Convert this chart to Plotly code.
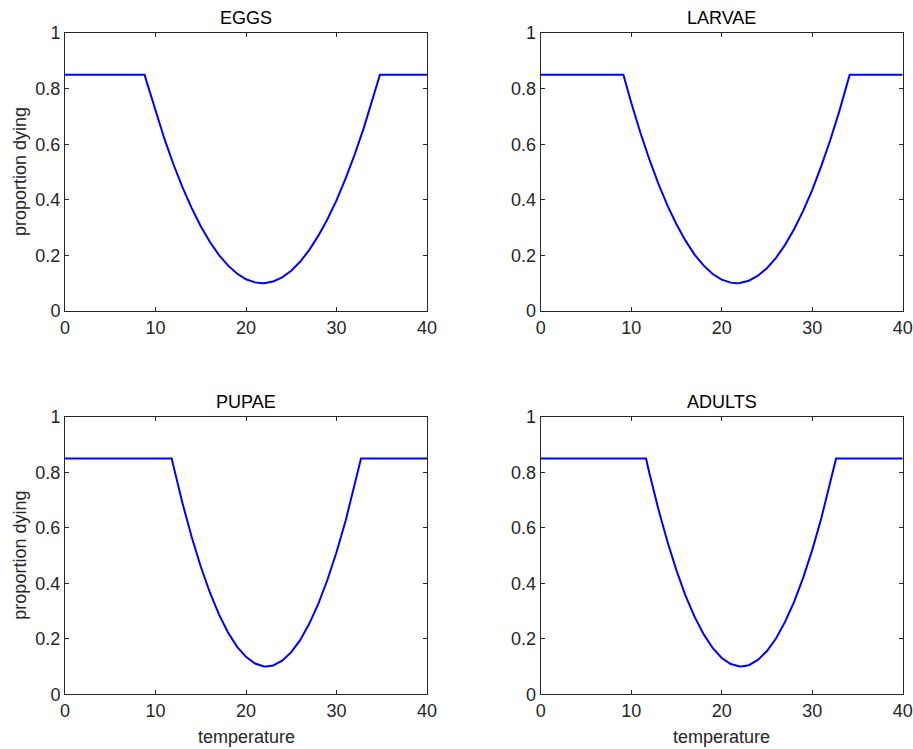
import plotly.graph_objects as go

# ---- data ----
TITLES = ["EGGS", "LARVAE", "PUPAE", "ADULTS"]
X_TICKS = [0, 10, 20, 30, 40]
Y_TICKS = [0, 0.2, 0.4, 0.6, 0.8, 1]
Y_TICK_LABELS = ["0", "0.2", "0.4", "0.6", "0.8", "1"]

T_EGGS = [0, 8.8, 9, 10, 11, 12, 13, 14, 15, 16, 17, 18, 19, 20, 21, 21.8,
          22, 23, 24, 25, 26, 27, 28, 29, 30, 31, 32, 33, 34, 34.8, 40]
P_EGGS = [0.85, 0.85, 0.827, 0.718, 0.618, 0.526, 0.444, 0.370, 0.305, 0.249, 0.202,
          0.164, 0.135, 0.114, 0.103, 0.100, 0.100, 0.106, 0.121, 0.145, 0.178, 0.220,
          0.271, 0.330, 0.398, 0.476, 0.562, 0.657, 0.761, 0.85, 0.85]

T_LARVAE = [0, 9.14, 10, 11, 12, 13, 14, 15, 16, 17, 18, 19, 20, 21, 21.64,
            22, 23, 24, 25, 26, 27, 28, 29, 30, 31, 32, 33, 34, 34.14, 40]
P_LARVAE = [0.85, 0.85, 0.750, 0.643, 0.546, 0.458, 0.380, 0.312, 0.253, 0.203, 0.164,
            0.133, 0.113, 0.102, 0.100, 0.101, 0.109, 0.127, 0.154, 0.191, 0.238, 0.294,
            0.360, 0.435, 0.521, 0.615, 0.719, 0.833, 0.85, 0.85]

T_PUPAE = [0, 11.79, 12, 13, 14, 15, 16, 17, 18, 19, 20, 21, 22, 22.25,
           23, 24, 25, 26, 27, 28, 29, 30, 31, 32, 32.71, 40]
P_PUPAE = [0.85, 0.85, 0.821, 0.687, 0.567, 0.461, 0.368, 0.289, 0.224, 0.172, 0.135,
           0.111, 0.100, 0.100, 0.104, 0.121, 0.152, 0.196, 0.255, 0.327, 0.413, 0.512,
           0.625, 0.752, 0.85, 0.85]

T_ADULTS = [0, 11.64, 12, 13, 14, 15, 16, 17, 18, 19, 20, 21, 22, 22.14,
            23, 24, 25, 26, 27, 28, 29, 30, 31, 32, 32.64, 40]
P_ADULTS = [0.85, 0.85, 0.799, 0.668, 0.551, 0.447, 0.356, 0.280, 0.217, 0.167, 0.131,
            0.109, 0.100, 0.100, 0.105, 0.124, 0.156, 0.201, 0.261, 0.333, 0.420, 0.520,
            0.634, 0.761, 0.85, 0.85]

SERIES = [(T_EGGS, P_EGGS), (T_LARVAE, P_LARVAE), (T_PUPAE, P_PUPAE), (T_ADULTS, P_ADULTS)]

# ---- layout geometry (pixels of a 913 x 749 canvas) ----
W, H = 913, 749
COLS = [(65, 427), (540.7, 902.7)]
ROWS = [(33, 311), (417, 694.3)]
FONT = "Liberation Sans, Arial, Helvetica, sans-serif"
AX_COLOR = "#262626"
FS = 18

fig = go.Figure()
annotations = []
for i, (title, (tx, py)) in enumerate(zip(TITLES, SERIES)):
    r, c = divmod(i, 2)
    n = "" if i == 0 else str(i + 1)
    fig.add_trace(go.Scatter(x=tx, y=py, mode="lines",
                             line=dict(color="#0000FF", width=2),
                             xaxis="x" + n, yaxis="y" + n, showlegend=False,
                             hoverinfo="skip"))
    x0, x1 = COLS[c]
    y0, y1 = ROWS[r]
    common = dict(showline=True, mirror="ticks", ticks="inside", ticklen=4,
                  tickwidth=1, tickcolor=AX_COLOR, linecolor=AX_COLOR, linewidth=1,
                  showgrid=False, zeroline=False, automargin=False, fixedrange=True,
                  tickfont=dict(family=FONT, size=FS, color=AX_COLOR))
    fig.update_layout(**{
        "xaxis" + n: dict(domain=[x0 / W, x1 / W], range=[0, 40], tickvals=X_TICKS,
                          anchor="y" + n, **common),
        "yaxis" + n: dict(domain=[1 - y1 / H, 1 - y0 / H], range=[0, 1],
                          tickvals=Y_TICKS, ticktext=Y_TICK_LABELS,
                          anchor="x" + n, **common),
    })
    cx = (x0 + x1) / 2
    annotations.append(dict(text=title, x=cx / W, y=1 - (y0 - 15) / H,
                            xref="paper", yref="paper", xanchor="center",
                            yanchor="middle", showarrow=False,
                            font=dict(family=FONT, size=FS, color="black")))
    if c == 0:
        annotations.append(dict(text="proportion dying", x=20 / W,
                                y=1 - ((y0 + y1) / 2) / H, xref="paper", yref="paper",
                                xanchor="center", yanchor="middle", textangle=-90,
                                showarrow=False,
                                font=dict(family=FONT, size=FS, color=AX_COLOR)))
    if r == 1:
        annotations.append(dict(text="temperature", x=cx / W, y=1 - 737 / H,
                                xref="paper", yref="paper", xanchor="center",
                                yanchor="middle", showarrow=False,
                                font=dict(family=FONT, size=FS, color=AX_COLOR)))

fig.update_layout(width=W, height=H, margin=dict(l=0, r=0, t=0, b=0),
                  paper_bgcolor="white", plot_bgcolor="white",
                  annotations=annotations)
fig.write_html("out.html", config={"displayModeBar": False},
               post_script="document.body.style.margin='0';document.body.style.overflow='hidden';")
